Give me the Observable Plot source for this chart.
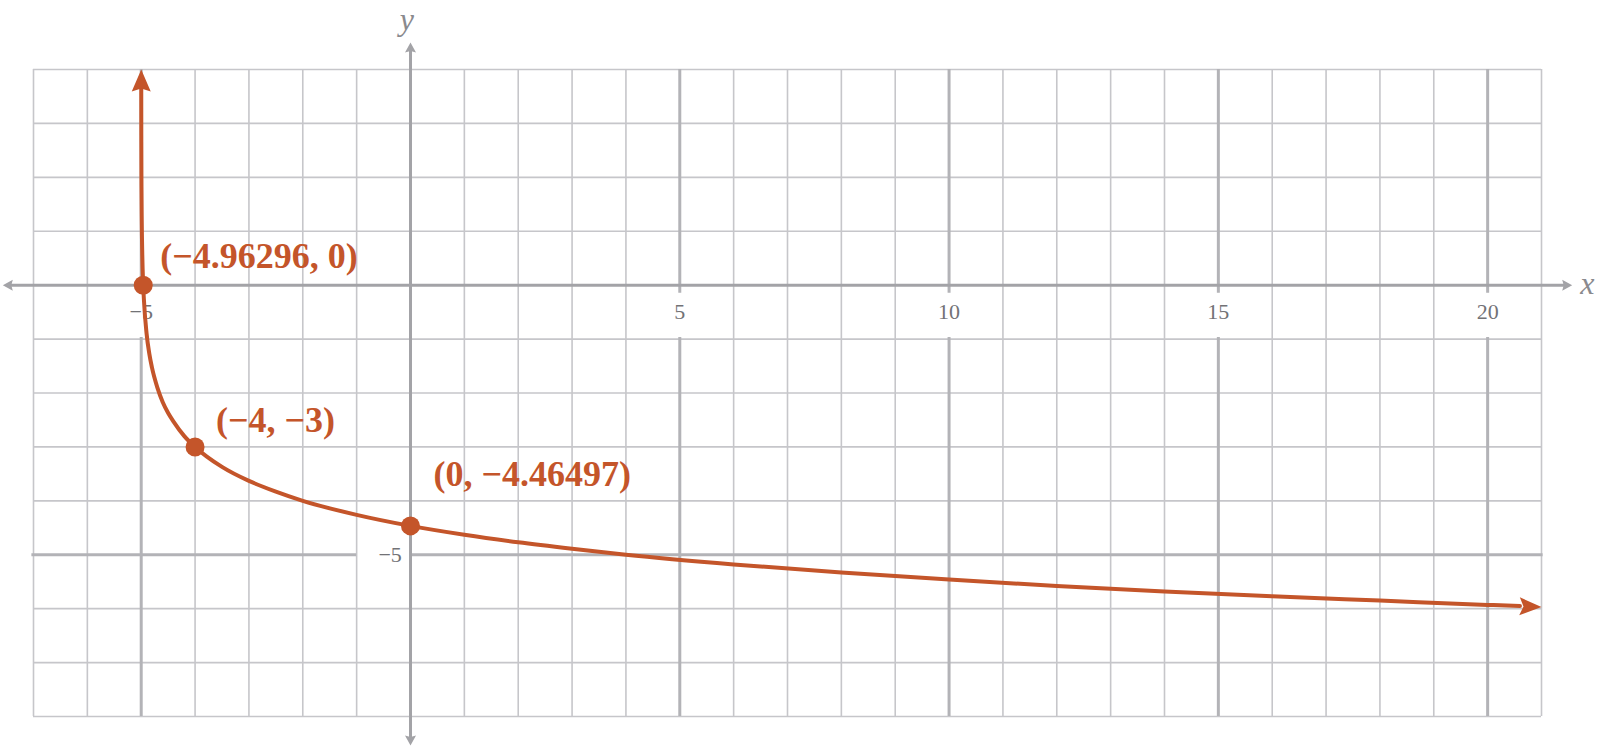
<!DOCTYPE html>
<html><head><meta charset="utf-8">
<script src="https://cdn.jsdelivr.net/npm/d3@7"></script>
<script src="https://cdn.jsdelivr.net/npm/@observablehq/plot@0.6"></script>
<style>html,body{margin:0;padding:0;background:#fff;overflow:hidden}</style>
</head><body><div id="chart"></div>
<script>
// Curve values
const curveX = [-4.9994, -4.999, -4.998, -4.995, -4.99, -4.98, -4.96296, -4.95, -4.9, -4.85, -4.8, -4.7, -4.6, -4.5, -4.4, -4.2, -4, -3.5, -3, -2.5, -2, -1, 0, 1, 2, 3, 4, 6, 8, 10, 12, 14, 16, 18, 20, 20.6];
const curveY = [3.75, 3.29, 2.66, 1.82, 1.19, 0.56, 0, -0.27, -0.90, -1.27, -1.53, -1.90, -2.17, -2.37, -2.53, -2.80, -3, -3.37, -3.63, -3.83, -4.00, -4.26, -4.46497, -4.63, -4.77, -4.89, -5.00, -5.18, -5.33, -5.46, -5.58, -5.68, -5.77, -5.85, -5.93, -5.95];
// Curve arrow tips
const arrowTipX = [-4.9995, 21];
const arrowTipY = [4, -5.97];
// Labelled points
const pointX = [-4.96296, -4, 0];
const pointY = [0, -3, -4.46497];
const pointLabels = ["(−4.96296, 0)", "(−4, −3)", "(0, −4.46497)"];
// Tick labels
const xTickValues = [-5, 5, 10, 15, 20];
const xTickLabels = ["−5", "5", "10", "15", "20"];
const yTickValues = [-5];
const yTickLabels = ["−5"];
const xDomain = [-7, 21];
const yDomain = [-8, 4];

const CURVE = "#c4552a";
const MINOR = "#c6c6ca";
const MAJOR = "#b3b3b7";
const AXIS = "#a3a3a7";
const TICK = "#727276";
const SERIF = "'Liberation Serif','Times New Roman',serif";

function arrowSym(dx, dy, L, W, notch) {
  const n = Math.hypot(dx, dy); dx /= n; dy /= n;
  const px = -dy, py = dx;
  return {draw(ctx) {
    ctx.moveTo(0, 0);
    ctx.lineTo(-dx * L + px * W, -dy * L + py * W);
    ctx.lineTo(-dx * (L - notch), -dy * (L - notch));
    ctx.lineTo(-dx * L - px * W, -dy * L - py * W);
    ctx.closePath();
  }};
}

const minorX = d3.range(xDomain[0], xDomain[1] + 1).filter(v => v !== 0 && v % 5 !== 0);
const minorY = d3.range(yDomain[0], yDomain[1] + 1).filter(v => v !== 0 && v % 5 !== 0);
const majorX = d3.range(xDomain[0], xDomain[1] + 1).filter(v => v !== 0 && v % 5 === 0);
const majorY = d3.range(yDomain[0], yDomain[1] + 1).filter(v => v !== 0 && v % 5 === 0);

const curve = curveX.map((x, i) => ({x, y: curveY[i]}));
const points = pointX.map((x, i) => ({x, y: pointY[i], label: pointLabels[i]}));
const xTicks = xTickValues.map((v, i) => ({v, label: xTickLabels[i]}));
const yTicks = yTickValues.map((v, i) => ({v, label: yTickLabels[i]}));

const labelText = (i, dx, dy) => Plot.text([points[i]], {
  x: "x", y: "y", text: "label", textAnchor: "start", dx, dy,
  fill: CURVE, fontSize: 36, fontWeight: "bold", fontFamily: SERIF
});

const plot = Plot.plot({
  width: 1600, height: 746,
  marginLeft: 33, marginRight: 59, marginTop: 69, marginBottom: 30,
  x: {domain: xDomain, axis: null},
  y: {domain: yDomain, axis: null},
  marks: [
    Plot.ruleX(minorX, {y1: yDomain[0], y2: yDomain[1], stroke: MINOR, strokeWidth: 1.6}),
    Plot.ruleY(minorY, {x1: xDomain[0], x2: xDomain[1], stroke: MINOR, strokeWidth: 1.6}),
    // major verticals with a gap for the tick labels
    Plot.ruleX(majorX, {y1: 0, y2: yDomain[1], stroke: MAJOR, strokeWidth: 3}),
    Plot.ruleX(majorX, {y1: 0, y2: -0.15, stroke: MAJOR, strokeWidth: 3}),
    Plot.ruleX(majorX, {y1: yDomain[0], y2: -0.97, stroke: MAJOR, strokeWidth: 3}),
    // major horizontal with gap for label
    Plot.ruleY(majorY, {x1: xDomain[0] - 0.03, x2: -1, stroke: MAJOR, strokeWidth: 3}),
    Plot.ruleY(majorY, {x1: 0, x2: xDomain[1] + 0.03, stroke: MAJOR, strokeWidth: 3}),
    // axes
    Plot.ruleY([0], {x1: -7.45, x2: 21.45, stroke: AXIS, strokeWidth: 3}),
    Plot.ruleX([0], {y1: -8.4, y2: 4.38, stroke: AXIS, strokeWidth: 3}),
    Plot.dot([{x: -7.57, y: 0}], {x: "x", y: "y", r: 1, fill: AXIS, stroke: null, symbol: arrowSym(-1, 0, 10, 5.5, 1.5)}),
    Plot.dot([{x: 21.57, y: 0}], {x: "x", y: "y", r: 1, fill: AXIS, stroke: null, symbol: arrowSym(1, 0, 10, 5.5, 1.5)}),
    Plot.dot([{x: 0, y: 4.5}], {x: "x", y: "y", r: 1, fill: AXIS, stroke: null, symbol: arrowSym(0, -1, 10, 5.5, 1.5)}),
    Plot.dot([{x: 0, y: -8.54}], {x: "x", y: "y", r: 1, fill: AXIS, stroke: null, symbol: arrowSym(0, 1, 10, 5.5, 1.5)}),
    // axis names
    Plot.text(["x"], {x: 21.85, y: 0.02, text: d => d, fill: "#8a8a8e", fontSize: 32, fontStyle: "italic", fontFamily: SERIF, textAnchor: "middle"}),
    Plot.text(["y"], {x: -0.07, y: 4.93, text: d => d, fill: "#8a8a8e", fontSize: 32, fontStyle: "italic", fontFamily: SERIF, textAnchor: "middle"}),
    // tick labels
    Plot.text(xTicks, {x: "v", y: -0.5, text: "label", fill: TICK, fontSize: 22, fontFamily: SERIF, textAnchor: "middle"}),
    Plot.text(yTicks, {x: -0.16, y: "v", text: "label", fill: TICK, fontSize: 22, fontFamily: SERIF, textAnchor: "end"}),
    // curve
    Plot.line(curve, {x: "x", y: "y", stroke: CURVE, strokeWidth: 4, curve: "monotone-x"}),
    Plot.dot([{x: arrowTipX[0], y: arrowTipY[0]}], {x: "x", y: "y", r: 1, fill: CURVE, stroke: null, symbol: arrowSym(0, -1, 22, 9.5, 3)}),
    Plot.dot([{x: arrowTipX[1], y: arrowTipY[1]}], {x: "x", y: "y", r: 1, fill: CURVE, stroke: null, symbol: arrowSym(1, 0.035, 22, 9, 4)}),
    Plot.dot(points, {x: "x", y: "y", r: 9.5, fill: CURVE, stroke: null}),
    labelText(0, 17, -29),
    labelText(1, 21, -26),
    labelText(2, 23, -51)
  ]
});
document.getElementById("chart").appendChild(plot);
</script>
</body></html>
